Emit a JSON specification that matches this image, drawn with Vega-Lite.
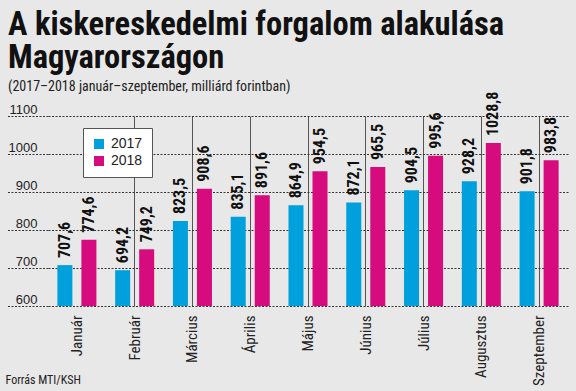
{
  "$schema": "https://vega.github.io/schema/vega-lite/v6.json",
  "width": 520,
  "height": 190,
  "autosize": {"type": "none"},
  "padding": {"left": 48, "top": 116, "right": 8, "bottom": 85},
  "background": "#E8E8E8",
  "config": {
    "view": {"stroke": null},
    "locale": {"number": {"decimal": ",", "thousands": "", "grouping": [3], "currency": ["", " Ft"]}}
  },
  "title": {
    "text": ["A kiskereskedelmi forgalom alakulása", "Magyarországon"],
    "subtitle": "(2017–2018 január–szeptember, milliárd forintban)",
    "anchor": "start",
    "frame": "group",
    "dx": -40,
    "font": "Roboto Condensed",
    "fontWeight": "bold",
    "fontSize": 32.5,
    "lineHeight": 33,
    "color": "#111111",
    "subtitleFont": "Roboto Condensed",
    "subtitleFontSize": 14,
    "subtitleFontWeight": "normal",
    "subtitleColor": "#222222",
    "subtitlePadding": 5,
    "offset": -2
  },
  "data": {
    "values": [
      {"month": "Január", "year": "2017", "value": 707.6},
      {"month": "Január", "year": "2018", "value": 774.6},
      {"month": "Február", "year": "2017", "value": 694.2},
      {"month": "Február", "year": "2018", "value": 749.2},
      {"month": "Március", "year": "2017", "value": 823.5},
      {"month": "Március", "year": "2018", "value": 908.6},
      {"month": "Április", "year": "2017", "value": 835.1},
      {"month": "Április", "year": "2018", "value": 891.6},
      {"month": "Május", "year": "2017", "value": 864.9},
      {"month": "Május", "year": "2018", "value": 954.5},
      {"month": "Június", "year": "2017", "value": 872.1},
      {"month": "Június", "year": "2018", "value": 965.5},
      {"month": "Július", "year": "2017", "value": 904.5},
      {"month": "Július", "year": "2018", "value": 995.6},
      {"month": "Augusztus", "year": "2017", "value": 928.2},
      {"month": "Augusztus", "year": "2018", "value": 1028.8},
      {"month": "Szeptember", "year": "2017", "value": 901.8},
      {"month": "Szeptember", "year": "2018", "value": 983.8}
    ]
  },
  "encoding": {
    "x": {
      "field": "month",
      "type": "nominal",
      "sort": null,
      "scale": {"paddingInner": 0, "paddingOuter": 0},
      "axis": {
        "title": "Forrás MTI/KSH",
        "titleFont": "Roboto Condensed",
        "titleFontSize": 12,
        "titleFontWeight": "normal",
        "titleColor": "#222222",
        "titleAnchor": "start",
        "titleAlign": "left",
        "titleBaseline": "alphabetic",
        "titleX": -43,
        "titleY": 77,
        "domain": false,
        "ticks": false,
        "tickSize": 0,
        "labelAngle": 270,
        "labelAlign": "right",
        "labelBaseline": "middle",
        "labelPadding": 9,
        "labelFont": "Roboto Condensed",
        "labelFontSize": 15,
        "labelColor": "#222222",
        "grid": true,
        "gridColor": {"condition": {"test": "datum.value === 'Január'", "value": "transparent"}, "value": "#555555"},
        "gridWidth": 1
      }
    },
    "xOffset": {
      "field": "year",
      "type": "nominal",
      "scale": {"paddingInner": 0.375, "paddingOuter": 0.39}
    },
    "y": {
      "field": "value",
      "type": "quantitative",
      "scale": {"domain": [600, 1100], "zero": false, "nice": false},
      "axis": {
        "title": null,
        "values": [600, 700, 800, 900, 1000, 1100],
        "format": "d",
        "domain": false,
        "grid": true,
        "gridDash": [2, 1.5],
        "gridColor": "#333333",
        "gridWidth": 1,
        "ticks": true,
        "tickSize": 42,
        "tickDash": [2, 1.5],
        "tickColor": "#333333",
        "labelPadding": -31,
        "labelAlign": "right",
        "labelBaseline": "alphabetic",
        "labelOffset": -3,
        "labelFont": "Liberation Sans",
        "labelFontSize": 13,
        "labelColor": "#222222"
      }
    }
  },
  "layer": [
    {
      "mark": {"type": "bar"},
      "encoding": {
        "y2": {"datum": 600},
        "color": {
          "field": "year",
          "type": "nominal",
          "scale": {"domain": ["2017", "2018"], "range": ["#00A0DC", "#D60C7E"]},
          "legend": {
            "title": null,
            "orient": "none",
            "legendX": 35,
            "legendY": 12,
            "padding": 9,
            "fillColor": "#FFFFFF",
            "strokeColor": "#555555",
            "symbolType": "square",
            "symbolSize": 100,
            "symbolStrokeWidth": 0,
            "labelFont": "Liberation Sans",
            "labelFontSize": 14,
            "labelColor": "#222222",
            "rowPadding": 3,
            "labelOffset": 5
          }
        }
      }
    },
    {
      "mark": {
        "type": "text",
        "angle": 270,
        "align": "left",
        "baseline": "middle",
        "dx": 7,
        "font": "Roboto Condensed",
        "fontWeight": "bold",
        "fontSize": 16,
        "color": "#111111"
      },
      "encoding": {
        "text": {"field": "value", "type": "quantitative", "format": ".1f"}
      }
    }
  ]
}
